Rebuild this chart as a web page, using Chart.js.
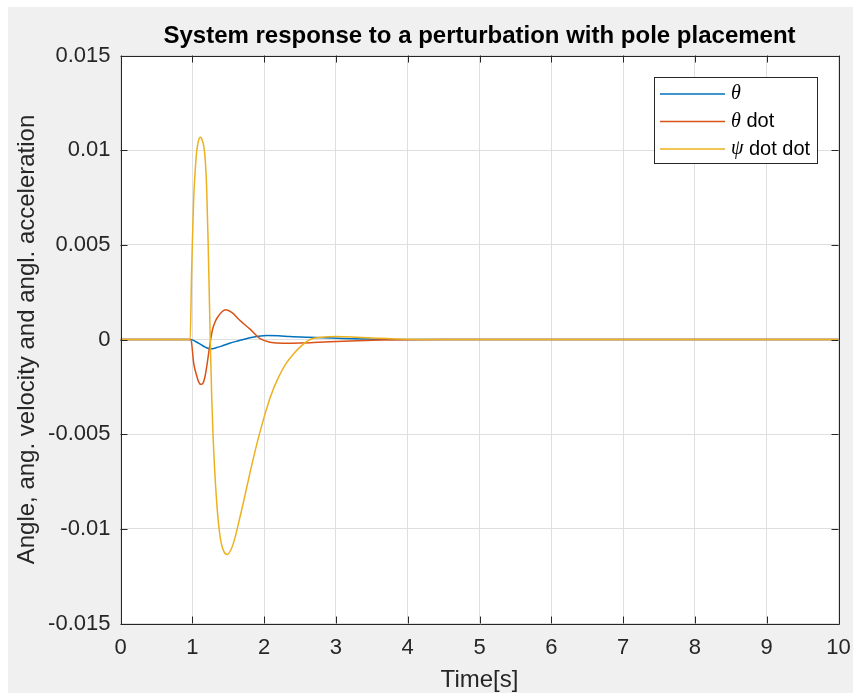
<!DOCTYPE html>
<html>
<head>
<meta charset="utf-8">
<script src="https://cdn.jsdelivr.net/npm/chart.js@4.4.1/dist/chart.umd.min.js"></script>
<style>
  html, body { margin: 0; padding: 0; background: #fff; }
</style>
</head>
<body>
<canvas id="myChart" width="853" height="693"></canvas>
<script>
// simulated response, sampled off the solver output
const thetaTime = [0, 0.98, 1.05, 1.12, 1.18, 1.25, 1.33, 1.43, 1.52, 1.62, 1.71, 1.8, 1.92, 2.04, 2.2, 2.36, 2.6, 2.83, 3.1, 3.39, 3.7, 4.0, 4.5, 10];
const thetaValues = [0, 0, -0.00012, -0.00027, -0.0004, -0.00049, -0.00044, -0.00032, -0.0002, -0.00009, 0, 0.00009, 0.00017, 0.00021, 0.0002, 0.00016, 0.00012, 0.00009, 0.00005, 0.00002, 0.00001, 0, 0, 0];

const thetaDotTime = [0, 0.98, 1.02, 1.06, 1.09, 1.12, 1.15, 1.18, 1.21, 1.236, 1.256, 1.28, 1.32, 1.36, 1.41, 1.466, 1.55, 1.665, 1.8, 1.944, 2.08, 2.27, 2.5, 2.69, 3.01, 3.3, 3.62, 4.0, 4.5, 10];
const thetaDotValues = [0, 0, -0.00127, -0.0019, -0.00225, -0.00237, -0.0023, -0.0019, -0.0012, -0.0005, 0, 0.0005, 0.00095, 0.00122, 0.00145, 0.00157, 0.00143, 0.001, 0.00056, 0.00004, -0.00014, -0.0002, -0.00019, -0.00016, -0.0001, -0.00006, -0.00003, -0.00001, 0, 0];

const psiTime = [0, 0.97, 0.99, 1.0, 1.02, 1.04, 1.06, 1.08, 1.1, 1.12, 1.14, 1.16, 1.18, 1.2, 1.22, 1.25, 1.27, 1.29, 1.31, 1.34, 1.37, 1.4, 1.44, 1.49, 1.55, 1.6, 1.65, 1.7, 1.8, 1.9, 2.0, 2.1, 2.2, 2.3, 2.4, 2.5, 2.64, 2.8, 3.0, 3.3, 3.6, 4.0, 4.5, 10];
const psiValues = [0, 0, 0.0035, 0.005, 0.0075, 0.0089, 0.0099, 0.0104, 0.01065, 0.01068, 0.0105, 0.0102, 0.0095, 0.008, 0.0052, 0, -0.003, -0.0052, -0.0068, -0.0086, -0.0099, -0.0107, -0.0112, -0.01135, -0.011, -0.0104, -0.0096, -0.0088, -0.0071, -0.0055, -0.0041, -0.0029, -0.002, -0.0013, -0.0008, -0.0004, 0, 0.00012, 0.00016, 0.00012, 0.00006, 0.00001, 0, 0];

const seriesLabels = ["θ", "θ dot", "ψ dot dot"];
const seriesColors = ["#0072BD", "#D95319", "#EDB120"];

const xTickLabels = ["0", "1", "2", "3", "4", "5", "6", "7", "8", "9", "10"];
const yTickLabels = ["-0.015", "-0.01", "-0.005", "0", "0.005", "0.01", "0.015"];

const FONT = "'Liberation Sans', Arial, Helvetica, sans-serif";
const AXIS_COLOR = "#262626";

function toPoints(times, values) {
  return times.map((t, i) => ({ x: t, y: values[i] }));
}

// figure background, white axes background
const backdrop = {
  id: "backdrop",
  beforeDraw(chart) {
    const { ctx, chartArea: a, width, height } = chart;
    ctx.save();
    ctx.fillStyle = "#ffffff";
    ctx.fillRect(0, 0, width, height);
    ctx.fillStyle = "#f0f0f0";
    ctx.fillRect(8, 7, width - 8, height - 7);
    ctx.fillStyle = "#ffffff";
    ctx.fillRect(a.left, a.top, a.right - a.left, a.bottom - a.top);
    ctx.restore();
  },
};

// box around the axes with inward ticks on every side, plus the legend
const axesBox = {
  id: "axesBox",
  afterDraw(chart) {
    const { ctx, chartArea: a, scales } = chart;
    const len = 7;
    ctx.save();
    ctx.strokeStyle = AXIS_COLOR;
    ctx.lineWidth = 1;
    ctx.beginPath();
    ctx.rect(Math.round(a.left) + 0.5, Math.round(a.top) + 0.5,
      Math.round(a.right - a.left), Math.round(a.bottom - a.top));
    scales.x.ticks.forEach((tk) => {
      const px = Math.round(scales.x.getPixelForValue(tk.value)) + 0.5;
      ctx.moveTo(px, a.bottom);
      ctx.lineTo(px, a.bottom - len);
      ctx.moveTo(px, a.top);
      ctx.lineTo(px, a.top + len);
    });
    scales.y.ticks.forEach((tk) => {
      const py = Math.round(scales.y.getPixelForValue(tk.value)) + 0.5;
      ctx.moveTo(a.left, py);
      ctx.lineTo(a.left + len, py);
      ctx.moveTo(a.right, py);
      ctx.lineTo(a.right - len, py);
    });
    ctx.stroke();

    // legend
    const lx = 654.5, ly = 77.5, lw = 163, lh = 86;
    ctx.fillStyle = "#ffffff";
    ctx.fillRect(lx, ly, lw, lh);
    ctx.strokeRect(lx, ly, lw, lh);
    const rows = [94, 121.5, 149];
    chart.data.datasets.forEach((ds, i) => {
      const y = rows[i];
      ctx.strokeStyle = ds.borderColor;
      ctx.lineWidth = 1.5;
      ctx.beginPath();
      ctx.moveTo(660, y);
      ctx.lineTo(725, y);
      ctx.stroke();
      ctx.fillStyle = "#000000";
      ctx.textBaseline = "middle";
      ctx.textAlign = "left";
      const symbol = ds.label.charAt(0);
      const rest = ds.label.slice(1);
      ctx.font = "italic 20px 'Liberation Serif', 'Times New Roman', serif";
      ctx.fillText(symbol, 731, y);
      const w = ctx.measureText(symbol).width;
      ctx.font = "20px " + FONT;
      ctx.fillText(rest, 731 + w, y);
    });
    ctx.restore();
  },
};

const ctx = document.getElementById("myChart").getContext("2d");
new Chart(ctx, {
  type: "line",
  data: {
    datasets: [
      { label: seriesLabels[0], data: toPoints(thetaTime, thetaValues), order: 3 },
      { label: seriesLabels[1], data: toPoints(thetaDotTime, thetaDotValues), order: 2 },
      { label: seriesLabels[2], data: toPoints(psiTime, psiValues), order: 1 },
    ].map((ds, i) => ({
      ...ds,
      borderColor: seriesColors[i],
      backgroundColor: seriesColors[i],
      borderWidth: 1.5,
      pointRadius: 0,
      cubicInterpolationMode: "monotone",
      fill: false,
    })),
  },
  options: {
    responsive: false,
    animation: false,
    layout: { padding: { left: 0, right: 14.5, top: 0, bottom: 0 } },
    plugins: {
      legend: { display: false },
      tooltip: { enabled: false },
      title: {
        display: true,
        fullSize: false,
        text: "System response to a perturbation with pole placement",
        color: "#000000",
        font: { family: FONT, size: 24, weight: "bold", lineHeight: 1.2 },
        padding: { top: 21.6, bottom: 5.1 },
      },
    },
    scales: {
      x: {
        type: "linear",
        min: 0,
        max: 10,
        afterFit: (scale) => {
          scale.height = 69.5;
          scale.paddingLeft = 0;
          scale.paddingRight = 0;
        },
        ticks: {
          stepSize: 1,
          padding: 11,
          color: AXIS_COLOR,
          font: { family: FONT, size: 22 },
          maxRotation: 0,
          callback: (value, index) => xTickLabels[index],
        },
        grid: { color: "#dfdfdf", drawTicks: false },
        border: { display: false },
        title: {
          display: true,
          text: "Time[s]",
          color: AXIS_COLOR,
          font: { family: FONT, size: 24, lineHeight: 1.2 },
          padding: { top: 0, bottom: -2 },
        },
      },
      y: {
        min: -0.015,
        max: 0.015,
        afterFit: (scale) => {
          scale.width = 120.5;
          scale.paddingTop = 0;
          scale.paddingBottom = 0;
        },
        ticks: {
          stepSize: 0.005,
          padding: 10,
          color: AXIS_COLOR,
          font: { family: FONT, size: 22 },
          callback: (value, index) => yTickLabels[index],
        },
        grid: { color: "#dfdfdf", drawTicks: false },
        border: { display: false },
        title: {
          display: true,
          text: "Angle, ang. velocity and angl. acceleration",
          color: AXIS_COLOR,
          font: { family: FONT, size: 24, lineHeight: 1.2 },
          padding: { top: 13, bottom: 0 },
        },
      },
    },
  },
  plugins: [backdrop, axesBox],
});
</script>
</body>
</html>
